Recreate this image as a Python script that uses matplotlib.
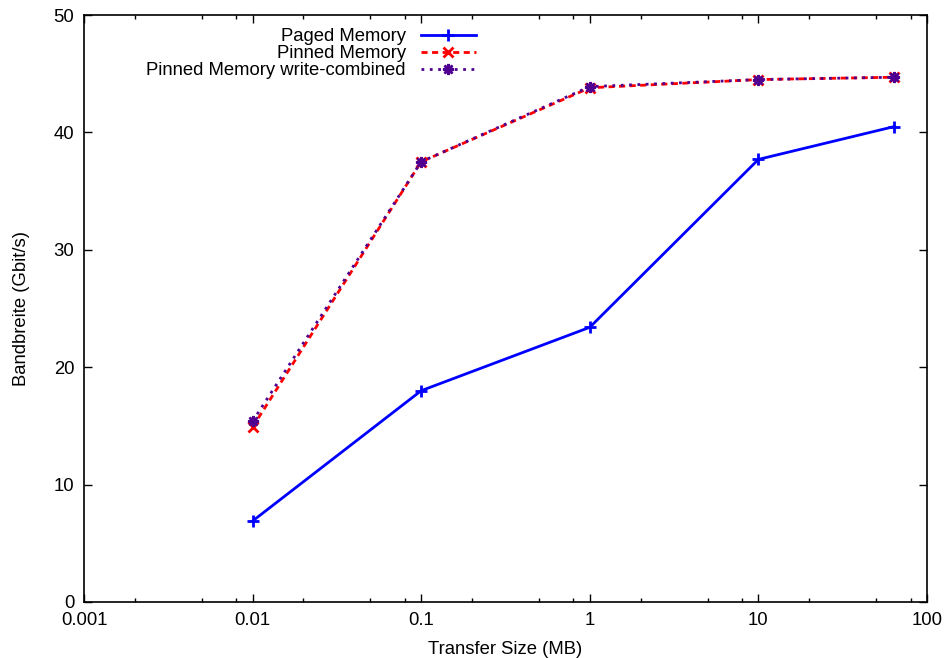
import numpy as np
import matplotlib.pyplot as plt
from matplotlib.ticker import LogLocator, FixedLocator, FixedFormatter, NullFormatter

plt.rcParams['font.family'] = ['Liberation Sans', 'DejaVu Sans']

sizes = [0.01, 0.1, 1, 10, 64]
paged = [6.9, 18.0, 23.4, 37.7, 40.5]
pinned = [14.9, 37.5, 43.8, 44.5, 44.7]
pinned_wc = [15.4, 37.5, 43.9, 44.5, 44.7]

xticks = [0.001, 0.01, 0.1, 1, 10, 100]
xtick_labels = ['0.001', '0.01', '0.1', '1', '10', '100']
yticks = [0, 10, 20, 30, 40, 50]

fs = 13.3

fig = plt.figure(figsize=(9.47, 6.58), dpi=100)
ax = fig.add_axes([84/947, 1-602/658, (927-84)/947, (602-15)/658])

ax.plot(sizes, paged, color='#0000ff', lw=2, marker='+', ms=8, mew=2,
        label='Paged Memory')
ax.plot(sizes, pinned, color='#ff0000', lw=2, ls=(0, (2.2, 1.6)), marker='x', ms=7, mew=2,
        label='Pinned Memory')
ax.plot(sizes, pinned_wc, color='#500090', lw=2, ls=(0, (1, 2)), marker=(8, 2, 0), ms=8, mew=1.8,
        label='Pinned Memory write-combined')

ax.set_xscale('log')
ax.set_xlim(0.001, 100)
ax.set_ylim(0, 50)
ax.xaxis.set_major_locator(FixedLocator(xticks))
ax.xaxis.set_major_formatter(FixedFormatter(xtick_labels))
ax.xaxis.set_minor_locator(LogLocator(base=10, subs=[2, 5, 8]))
ax.xaxis.set_minor_formatter(NullFormatter())
ax.set_yticks(yticks)

ax.tick_params(which='both', direction='in', top=True, right=True, labelsize=fs, width=1)
ax.tick_params(which='major', length=6, pad=7)
ax.tick_params(which='minor', length=3)
for s in ax.spines.values():
    s.set_linewidth(1.2)

ax.set_xlabel('Transfer Size (MB)', fontsize=fs, labelpad=9)
ax.set_ylabel('Bandbreite (Gbit/s)', fontsize=fs, labelpad=17)

ax.legend(loc='upper right', bbox_to_anchor=(0.476, 0.993), frameon=False, markerfirst=False,
          fontsize=fs, handlelength=3, labelspacing=0.0, borderpad=0, handletextpad=0.8)

fig.savefig('out.png', dpi=100)
